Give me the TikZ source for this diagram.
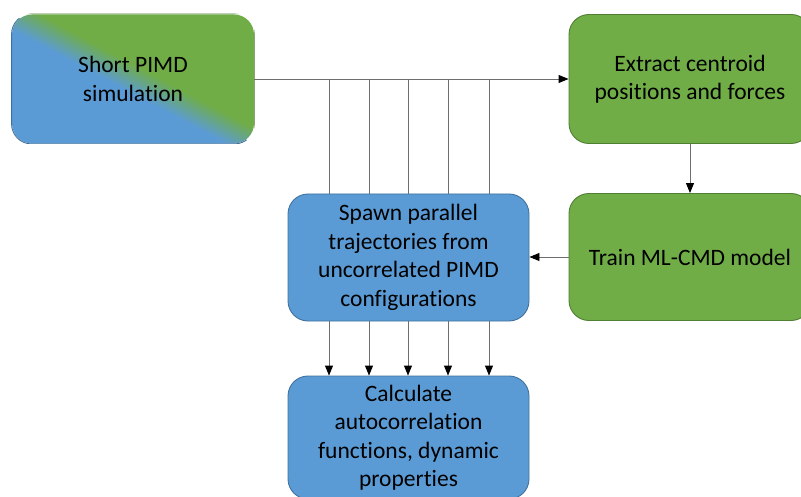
\documentclass[tikz,border=0pt]{standalone}
\usepackage{fontspec}
\setmainfont{Carlito}[Ligatures=NoCommon]
\usetikzlibrary{arrows.meta}
\definecolor{pblue}{HTML}{5B9BD5}
\definecolor{pbluedk}{HTML}{41719C}
\definecolor{pgreen}{HTML}{70AD47}
\definecolor{pgreendk}{HTML}{507E32}
\definecolor{lineg}{HTML}{6E6E6E}
\pgfdeclareverticalshading{pimdshade}{100bp}{color(0bp)=(pblue); color(46bp)=(pblue); color(54bp)=(pgreen); color(100bp)=(pgreen)}
\tikzset{
  boxbase/.style={rounded corners=20pt, align=center, inner sep=0pt,
    font=\fontsize{23.5}{28.5}\selectfont, text=black, line width=0.9pt},
  bluebox/.style={boxbase, fill=pblue, draw=pbluedk},
  greenbox/.style={boxbase, fill=pgreen, draw=pgreendk},
  gradbox/.style={boxbase, path picture={\shade[shading=pimdshade, shading angle=-28]
      (path picture bounding box.south west) rectangle (path picture bounding box.north east);}},
  conn/.style={draw=lineg, line width=0.9pt},
  arr/.style={conn, -{Triangle[length=10pt,width=8pt,color=black]}}
}
\begin{document}
\begin{tikzpicture}[x=1pt,y=-1pt]
\useasboundingbox (0,0) rectangle (801,497);
\clip (0,0) rectangle (801,497);
\node[gradbox, minimum width=242pt, minimum height=129pt] (A) at (133,79) {Short PIMD\\simulation};
\begin{scope}
  \clip (A.north west) -- (A.north east) -- (A.south east) -- ++(20,0) -- ++(0,-200) -- ++(-300,0) -- cycle;
  \draw[pgreendk, line width=0.9pt, rounded corners=20pt] (A.north west) rectangle (A.south east);
\end{scope}
\begin{scope}
  \clip (A.north west) -- (A.south east) -- (A.south west) -- ++(-20,0) -- ++(0,-200) -- cycle;
  \draw[pbluedk, line width=0.9pt, rounded corners=20pt] (A.north west) rectangle (A.south east);
\end{scope}
\node[greenbox, minimum width=242pt, minimum height=129pt] (B) at (690,79) {Extract centroid\\positions and forces};
\node[greenbox, minimum width=242pt, minimum height=127pt] (C) at (690,257) {Train ML-CMD model};
\node[bluebox, minimum width=241pt, minimum height=127pt] (D) at (408.5,257.5) {Spawn parallel\\trajectories from\\uncorrelated PIMD\\configurations};
\node[bluebox, minimum width=241pt, minimum height=123pt] (E) at (408.5,437.5) {Calculate\\autocorrelation\\functions, dynamic\\properties};
\draw[arr] (A.east) -- (B.west);
\draw[arr] (B.south) -- (C.north);
\draw[arr] (C.west) -- (C.west -| D.east);
\foreach \i/\xx in {1/329,2/369,3/408,4/448,5/489}{
  \coordinate (j\i) at (\xx,79);
  \draw[conn] (j\i) -- (j\i |- D.north);
  \draw[arr] (j\i |- D.south) -- (j\i |- E.north);
}
\end{tikzpicture}
\end{document}
